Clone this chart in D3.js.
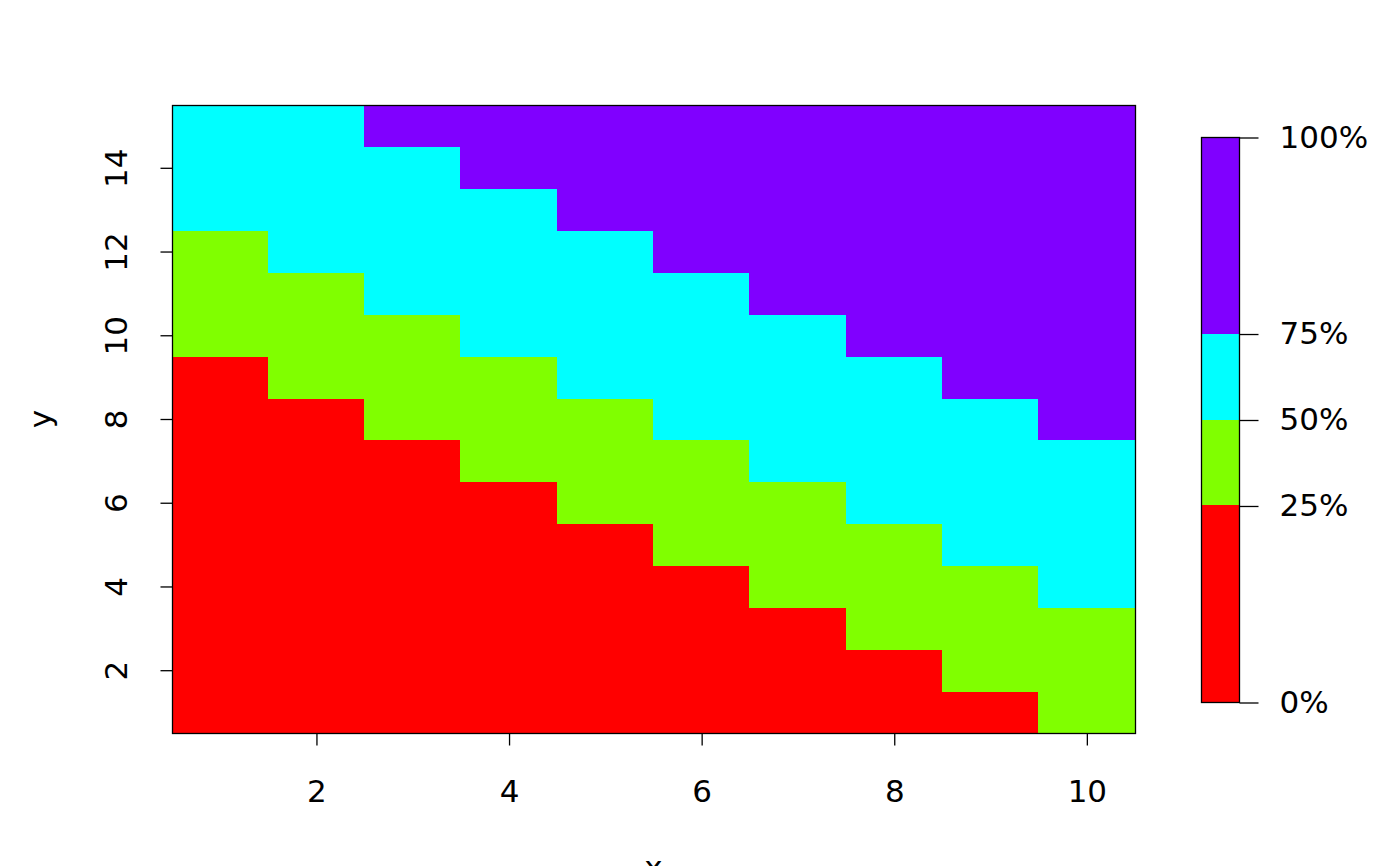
<!DOCTYPE html>
<html>
<head>
<meta charset="utf-8">
<script src="https://cdn.jsdelivr.net/npm/d3@7"></script>
<style>
  body { margin: 0; background: #fff; }
  text { font-family: "DejaVu Sans", sans-serif; font-size: 31px; fill: #000; }
</style>
</head>
<body>
<svg id="chart"></svg>
<script>
// Data
const xValues = [1, 2, 3, 4, 5, 6, 7, 8, 9, 10];
const yValues = [1, 2, 3, 4, 5, 6, 7, 8, 9, 10, 11, 12, 13, 14, 15];
// z values, one row per y (bottom to top), one column per x
const zRows = [
  [2, 3, 4, 5, 6, 7, 8, 9, 10, 11],
  [3, 4, 5, 6, 7, 8, 9, 10, 11, 12],
  [4, 5, 6, 7, 8, 9, 10, 11, 12, 13],
  [5, 6, 7, 8, 9, 10, 11, 12, 13, 14],
  [6, 7, 8, 9, 10, 11, 12, 13, 14, 15],
  [7, 8, 9, 10, 11, 12, 13, 14, 15, 16],
  [8, 9, 10, 11, 12, 13, 14, 15, 16, 17],
  [9, 10, 11, 12, 13, 14, 15, 16, 17, 18],
  [10, 11, 12, 13, 14, 15, 16, 17, 18, 19],
  [11, 12, 13, 14, 15, 16, 17, 18, 19, 20],
  [12, 13, 14, 15, 16, 17, 18, 19, 20, 21],
  [13, 14, 15, 16, 17, 18, 19, 20, 21, 22],
  [14, 15, 16, 17, 18, 19, 20, 21, 22, 23],
  [15, 16, 17, 18, 19, 20, 21, 22, 23, 24],
  [16, 17, 18, 19, 20, 21, 22, 23, 24, 25]
];
const breaks = [2, 10, 13.5, 17, 25];
const breakLabels = ["0%", "25%", "50%", "75%", "100%"];
const colors = ["#FF0000", "#80FF00", "#00FFFF", "#8000FF"];
const xTicks = [2, 4, 6, 8, 10];
const yTicks = [2, 4, 6, 8, 10, 12, 14];

// Dimensions
const width = 1400;
const height = 866;
const plot = { left: 172, right: 1135, top: 105, bottom: 733 };
const bar = { left: 1201, right: 1239, top: 137, bottom: 702 };

const svg = d3.select("#chart").attr("width", width).attr("height", height);

// Scales
const x = d3.scaleLinear().domain([0.5, 10.5]).range([plot.left, plot.right]);
const y = d3.scaleLinear().domain([0.5, 15.5]).range([plot.bottom, plot.top]);
// intervals closed on the right, lowest included
const color = (z) => colors[Math.max(0, d3.bisectLeft(breaks, z) - 1)];
const legendY = d3.scaleLinear().domain([breaks[0], breaks[breaks.length - 1]]).range([bar.bottom, bar.top]);

// Cells
const cells = [];
zRows.forEach((row, j) => {
  row.forEach((z, i) => cells.push({ x: xValues[i], y: yValues[j], z: z }));
});

svg.append("g")
  .selectAll("rect")
  .data(cells)
  .enter()
  .append("rect")
  .attr("x", (d) => Math.floor(x(d.x - 0.5)))
  .attr("y", (d) => Math.floor(y(d.y + 0.5)))
  .attr("width", (d) => Math.ceil(x(d.x + 0.5)) - Math.floor(x(d.x - 0.5)))
  .attr("height", (d) => Math.ceil(y(d.y - 0.5)) - Math.floor(y(d.y + 0.5)))
  .attr("fill", (d) => color(d.z))
  .attr("shape-rendering", "crispEdges");

// Frame
svg.append("rect")
  .attr("x", plot.left + 0.5)
  .attr("y", plot.top + 0.5)
  .attr("width", plot.right - plot.left)
  .attr("height", plot.bottom - plot.top)
  .attr("fill", "none")
  .attr("stroke", "#000")
  .attr("stroke-width", 1.3);

// X axis
const xAxis = svg.append("g")
  .attr("transform", `translate(0,${plot.bottom + 0.5})`)
  .call(d3.axisBottom(x).tickValues(xTicks).tickSize(12).tickPadding(34).tickFormat(d3.format("d")));
xAxis.select(".domain").remove();
xAxis.selectAll("line").attr("stroke", "#000").attr("stroke-width", 1.3);
xAxis.selectAll("text").attr("font-size", null).attr("font-family", null).attr("fill", "#000");

// Y axis
const yAxis = svg.append("g")
  .attr("transform", `translate(${plot.left + 0.5},0)`)
  .call(d3.axisLeft(y).tickValues(yTicks).tickSize(12).tickFormat(d3.format("d")));
yAxis.select(".domain").remove();
yAxis.selectAll("line").attr("stroke", "#000").attr("stroke-width", 1.3);
yAxis.selectAll("text")
  .attr("font-size", null).attr("font-family", null).attr("fill", "#000")
  .attr("x", null).attr("dy", null)
  .attr("text-anchor", "middle")
  .attr("transform", "translate(-46,0) rotate(-90)");

// Axis titles
svg.append("text")
  .attr("x", (plot.left + plot.right) / 2)
  .attr("y", 878)
  .attr("text-anchor", "middle")
  .text("x");

svg.append("text")
  .attr("text-anchor", "middle")
  .attr("transform", `translate(51,${(plot.top + plot.bottom) / 2}) rotate(-90)`)
  .text("y");

// Legend bar
const legendData = colors.map((c, i) => ({ c: c, lo: breaks[i], hi: breaks[i + 1] }));
svg.append("g")
  .selectAll("rect")
  .data(legendData)
  .enter()
  .append("rect")
  .attr("x", bar.left)
  .attr("y", (d) => legendY(d.hi))
  .attr("width", bar.right - bar.left)
  .attr("height", (d) => legendY(d.lo) - legendY(d.hi))
  .attr("fill", (d) => d.c)
  .attr("shape-rendering", "crispEdges");

svg.append("rect")
  .attr("x", bar.left + 0.5)
  .attr("y", bar.top + 0.5)
  .attr("width", bar.right - bar.left)
  .attr("height", bar.bottom - bar.top)
  .attr("fill", "none")
  .attr("stroke", "#000")
  .attr("stroke-width", 1.3);

const legendAxis = svg.append("g")
  .attr("transform", `translate(${bar.right + 0.5},0.5)`)
  .call(d3.axisRight(legendY).tickValues(breaks).tickSize(19).tickPadding(21).tickFormat((d, i) => breakLabels[i]));
legendAxis.select(".domain").remove();
legendAxis.selectAll("line").attr("stroke", "#000").attr("stroke-width", 1.3);
legendAxis.selectAll("text").attr("font-size", null).attr("font-family", null).attr("fill", "#000");
</script>
</body>
</html>
